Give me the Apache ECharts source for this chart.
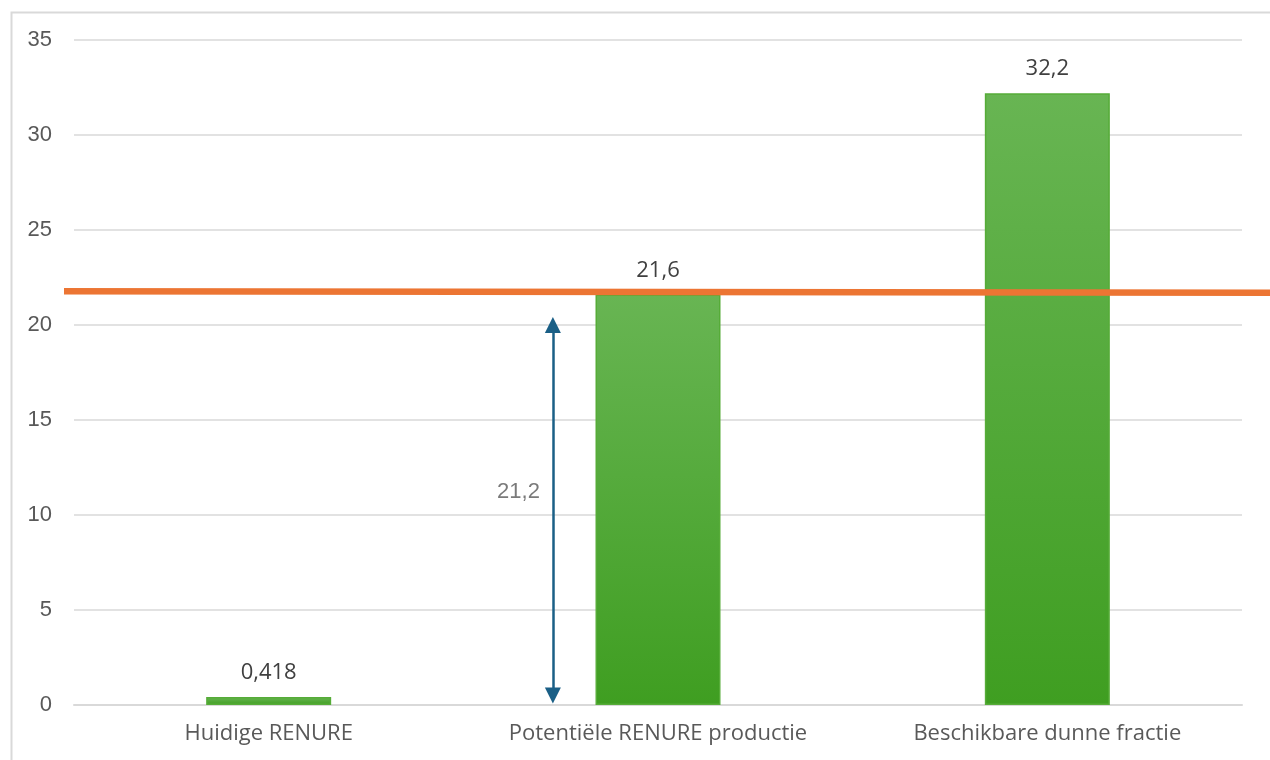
<!DOCTYPE html>
<html>
<head>
<meta charset="utf-8">
<script src="https://cdn.jsdelivr.net/npm/echarts@6/dist/echarts.min.js"></script>
<style>html,body{margin:0;padding:0;background:#fff}#c{width:1270px;height:760px}</style>
</head>
<body>
<div id="c"></div>
<script>
const categories = ['Huidige RENURE', 'Potentiële RENURE productie', 'Beschikbare dunne fractie'];
const barValues = [0.418, 21.6, 32.2];
const barLabels = ['0,418', '21,6', '32,2'];
const refLine = [[0, 21.78], [1, 21.70]];
const arrowX = 1.23;
const arrowFrom = 0.5;
const arrowTo = 20.0;
const arrowLabel = '21,2';
const arrowLabelY = 11.2;
const yTicks = { min: 0, max: 35, interval: 5 };

const chart = echarts.init(document.getElementById('c'), null, { renderer: 'canvas' });
const option = {
  animation: false,
  backgroundColor: '#fff',
  graphic: [{
    type: 'rect', left: 9, top: 10, z: -10,
    shape: { width: 1300, height: 800 },
    style: { fill: 'none', stroke: '#D9D9D9', lineWidth: 2 }
  }],
  grid: [
    { left: 74, right: 28, top: 40, bottom: 55 },
    { left: 64, right: 0, top: 40, bottom: 55 }
  ],
  xAxis: [
    {
      type: 'category', gridIndex: 0, data: categories,
      axisTick: { show: false },
      axisLine: { show: true, lineStyle: { color: '#D9D9D9', width: 2 } },
      axisLabel: { color: '#595959', fontFamily: 'Open Sans', fontSize: 22, margin: 18 }
    },
    { type: 'value', gridIndex: 0, min: 0, max: 3, show: false },
    { type: 'value', gridIndex: 1, min: 0, max: 1, show: false }
  ],
  yAxis: [
    {
      type: 'value', gridIndex: 0, min: yTicks.min, max: yTicks.max, interval: yTicks.interval,
      axisLine: { show: false }, axisTick: { show: false },
      splitLine: { lineStyle: { color: '#D9D9D9', width: 1.5 } },
      axisLabel: { color: '#595959', fontFamily: 'Liberation Sans', fontSize: 22, margin: 22 }
    },
    { type: 'value', gridIndex: 1, min: yTicks.min, max: yTicks.max, show: false }
  ],
  series: [
    {
      type: 'bar', xAxisIndex: 0, yAxisIndex: 0, data: barValues, barWidth: 125,
      itemStyle: {
        color: new echarts.graphic.LinearGradient(0, 0, 0, 1, [
          { offset: 0, color: '#68B553' },
          { offset: 1, color: '#3F9E21' }
        ]),
        borderColor: '#56AC38', borderWidth: 1.5
      },
      label: {
        show: true, position: 'top', distance: 13,
        formatter: p => barLabels[p.dataIndex],
        color: '#404040', fontFamily: 'Open Sans', fontSize: 22
      },
      z: 2
    },
    {
      type: 'line', xAxisIndex: 2, yAxisIndex: 1, data: refLine,
      symbol: 'none', lineStyle: { color: '#EC7533', width: 6.5 }, z: 5
    },
    {
      type: 'scatter', xAxisIndex: 1, yAxisIndex: 0,
      data: [[arrowX, arrowLabelY]], symbolSize: 0,
      label: {
        show: true, position: 'left', distance: 13,
        formatter: arrowLabel, color: '#595959', fontFamily: 'Liberation Sans', fontSize: 22
      },
      markLine: {
        silent: true, symbol: ['triangle', 'triangle'], symbolSize: [16, 16],
        label: { show: false },
        lineStyle: { color: '#1A5F86', width: 2.5, type: 'solid' },
        data: [[{ coord: [arrowX, arrowFrom] }, { coord: [arrowX, arrowTo] }]]
      },
      z: 6
    }
  ]
};
chart.setOption(option);
</script>
</body>
</html>
